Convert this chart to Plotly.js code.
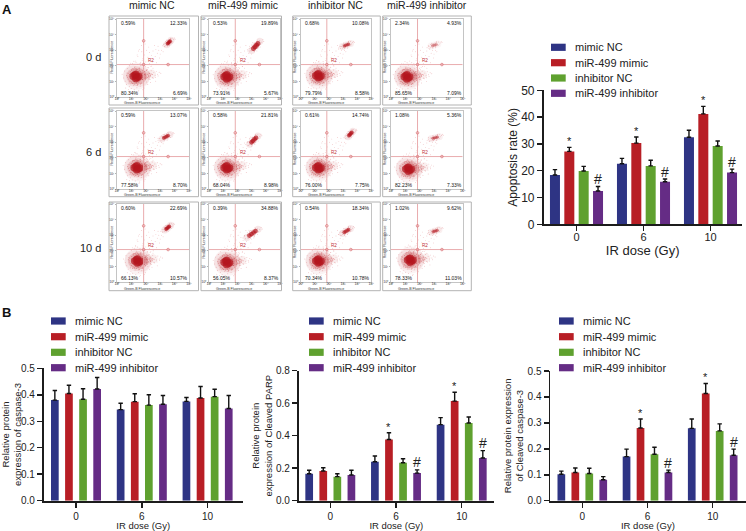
<!DOCTYPE html>
<html><head><meta charset="utf-8">
<script src="https://cdn.plot.ly/plotly-3.0.1.min.js"></script>
<style>html,body{margin:0;padding:0;background:#fff}#c{width:746px;height:531px}</style>
</head><body><div id="c"></div>
<script>
// ---------- bar chart data ----------
const doses = ['0','6','10'];
const groups = ['mimic NC','miR-499 mimic','inhibitor NC','miR-499 inhibitor'];
const groupColors = ['#2e3484','#b81e25','#5fa12f','#652c85'];

const apoptosisMean = [[18.4,22.6,32.5],[27.2,30.3,41.2],[19.9,21.8,29.2],[12.4,15.9,19.3]];
const apoptosisErr  = [[2.0,2.0,2.6],[1.5,2.3,2.8],[1.7,2.1,1.9],[1.7,1.0,1.3]];
const caspaseMean = [[.380,.344,.375],[.405,.374,.388],[.383,.361,.393],[.422,.364,.348]];
const caspaseErr  = [[.036,.024,.015],[.031,.030,.043],[.040,.039,.028],[.043,.033,.049]];
const parpMean = [[.166,.240,.468],[.183,.377,.613],[.148,.234,.478],[.158,.170,.263]];
const parpErr  = [[.021,.035,.043],[.020,.041,.054],[.018,.024,.037],[.029,.020,.045]];
const cleavedMean = [[.102,.170,.279],[.109,.280,.413],[.105,.179,.269],[.081,.109,.175]];
const cleavedErr  = [[.012,.029,.036],[.017,.035,.039],[.020,.027,.027],[.012,.009,.024]];

// ---------- flow cytometry data (decades on both axes) ----------
const columnTitles = ['mimic NC','miR-499 mimic','inhibitor NC','miR-499 inhibitor'];
const rowTitles = ['0 d','6 d','10 d'];
const decadeLabels = ['10⁰','10¹','10²','10³','10⁴','10⁵'];
const pctUL = [['0.59%','0.53%','0.68%','2.34%'],['0.59%','0.58%','0.61%','1.08%'],['0.60%','0.39%','0.54%','1.02%']];
const pctUR = [['12.33%','19.89%','10.08%','4.93%'],['13.07%','21.81%','14.74%','5.36%'],['22.69%','34.88%','18.34%','9.62%']];
const pctLL = [['80.34%','73.91%','79.79%','85.65%'],['77.58%','68.04%','76.00%','82.23%'],['66.13%','56.05%','70.34%','78.33%']];
const pctLR = [['6.69%','5.67%','8.58%','7.09%'],['8.70%','8.98%','7.75%','7.33%'],['10.57%','8.37%','10.78%','11.03%']];
const liveX = [[1.30,1.24,1.24,1.10],[1.37,1.24,1.24,1.21],[1.41,1.24,1.24,1.33]];
const liveY = [[1.33,1.30,1.37,1.30],[1.37,1.37,1.37,1.28],[1.35,1.26,1.35,1.41]];
const apoX  = [[3.60,3.29,3.24,3.03],[3.40,3.15,3.52,3.08],[3.52,3.06,3.24,3.08]];
const apoY  = [[3.50,3.27,3.33,3.33],[3.35,3.14,3.53,3.29],[3.48,3.12,3.27,3.27]];
const apoSpreadX = [[.14,.26,.26,.22],[.25,.26,.16,.26],[.18,.36,.26,.24]];
const apoSpreadY = [[.13,.27,.09,.06],[.13,.24,.16,.06],[.14,.24,.14,.07]];
const apoStrength = [[1,1,.8,.4],[.9,1,1,.65],[1,1,.9,.7]];
const hazeDX = [-.9,-.7,-.75,-.6,-.55,-.5,-.42,-.4,-.3,-.28,-.2,-.15,-.1,-.05,.02,.08,.12,.2,.25,.3,.36,.42,.5,.55,.62,.7,.74,.8,.88,.95,1.02,1.1,1.2,1.28,1.36,1.45,1.55,1.66,-.66,-.48,-.33,-.12,.15,.33,.48,.66,.85,1.05,-.8,-.58,-.36,-.18,.05,.28,.44,.6,.78,.97,1.15,1.32,1.48,.4,.7,1.0,1.3,-.25,.1,.52];
const hazeDY = [.12,-.3,.32,-.5,.48,.02,-.62,.64,-.75,.42,.78,-.55,-.82,.6,.85,-.7,.72,-.88,.5,-.6,.66,-.45,.48,-.72,.3,-.35,.12,-.5,.2,-.2,.34,-.08,.22,.06,.3,.12,.24,.18,-.72,-.8,.8,.92,-.95,.85,-.82,.58,.52,.62,-.1,.2,-.3,-.42,.35,.28,-.2,.1,.4,-.38,-.12,-.3,.02,.16,-.12,.14,-.06,.15,-.2,.24];
const bridgeX = [1.3,1.45,1.6,1.72,1.8,1.55,1.9,2.0,2.05,1.7,2.15,2.25,2.3,1.95,2.4,2.5,2.55,2.2,2.65,2.7,2.8,2.45,2.9,2.95,2.6,3.0,2.75,1.62,1.85,2.1,2.35,1.4,3.1,2.85,3.2,2.05,1.75,2.25,2.5,1.5];
const bridgeY = [2.3,2.6,2.15,2.9,2.45,3.05,2.7,2.25,3.0,3.3,2.55,2.85,2.35,3.4,2.65,2.95,2.4,3.2,2.6,3.05,2.8,2.25,3.0,2.5,3.3,2.75,2.2,2.0,1.85,1.9,1.95,2.7,3.0,3.25,2.9,1.75,2.35,2.15,1.85,2.95];
const apoDX = [-.55,-.45,-.4,-.34,-.28,-.22,-.18,-.1,-.05,.04,.1,.16,.22,.28,.34,.42,.5,.56,-.3,-.12,.14,.3,.08,-.2];
const apoDY = [-.3,-.16,-.36,-.12,-.3,-.02,-.26,.18,-.2,.24,-.16,.3,.02,.34,.1,.24,.38,.28,.06,-.32,.36,-.06,-.3,.2];
const gateX = 1.85, gateY = 2.08, handleHi = 3.6, handleRight = 3.55;

// ---------- layout helpers ----------
const W = 746, H = 531;
const px = x => x / W, py = y => 1 - y / H;
const FONT = '"Liberation Sans", Arial, sans-serif';
const INK = '#222222';
const traces = [], shapes = [], annotations = [];
const layout = {
  width: W, height: H, margin: {l:0,r:0,t:0,b:0}, paper_bgcolor:'#fff', plot_bgcolor:'rgba(0,0,0,0)',
  showlegend:false, barmode:'group', bargap:.143, bargroupgap:0, font:{family:FONT,color:INK},
  shapes, annotations, hovermode:false
};
const txt = (text,x,y,size,opt={}) => annotations.push(Object.assign({
  text, x:px(x), y:py(y), xref:'paper', yref:'paper', showarrow:false, xanchor:'center', yanchor:'middle',
  font:{size,family:FONT,color:INK}, borderpad:0
},opt));

// ---------- flow panels ----------
const colGeo = [
 {bl:109,br:198.5,l:117,r:189},{bl:201,br:281.5,l:209,r:280},
 {bl:292.7,br:380.3,l:300.7,r:371.3},{bl:382.7,br:471.3,l:391,r:462.7}];
const rowGeo = [{bt:16,bb:105,t:19,b:97},{bt:108,bb:196.7,t:111,b:189},{bt:202,bb:290.7,t:204,b:282}];
let axisId = 0;
const red = '#b4161e';
rowGeo.forEach((R,ri)=>colGeo.forEach((C,ci)=>{
  axisId++;
  const xn='x'+(axisId===1?'':axisId), yn='y'+(axisId===1?'':axisId);
  const xk='xaxis'+(axisId===1?'':axisId), yk='yaxis'+(axisId===1?'':axisId);
  const decades=[0,1,2,3,4,5];
  const common={range:[0,5],tickmode:'array',tickvals:decades,ticktext:decadeLabels,tickfont:{size:3.6,color:'#333'},
    showgrid:false,zeroline:false,showline:true,linecolor:'#c4c4c4',linewidth:1,mirror:true,ticks:'outside',ticklen:1,tickwidth:.5,tickcolor:'#666',fixedrange:true};
  layout[xk]=Object.assign({},common,{domain:[px(C.l),px(C.r)],anchor:yn,ticklabelstandoff:-3});
  layout[yk]=Object.assign({},common,{domain:[py(R.b),py(R.t)],anchor:xn});
  shapes.push({type:'rect',xref:'paper',yref:'paper',x0:px(C.bl),x1:px(C.br),y0:py(R.bt),y1:py(R.bb),line:{color:'#b3b3b3',width:1}});

  const lx=liveX[ri][ci], ly=liveY[ri][ci], ax=apoX[ri][ci], ay=apoY[ri][ci];
  const sx=apoSpreadX[ri][ci], sy=apoSpreadY[ri][ci], st=apoStrength[ri][ci];
  const add=(x,y,size,opacity,color=red)=>traces.push({type:'scatter',mode:'markers',x,y,xaxis:xn,yaxis:yn,cliponaxis:true,hoverinfo:'skip',
    marker:{size,color,opacity,line:{width:0}}});
  // sparse events
  add(bridgeX,bridgeY,.9,.45,'#d8585e');
  add(hazeDX.map(d=>lx+d*1.05),hazeDY.map(d=>ly+d*1.05),.9,.5,'#d8585e');
  add(hazeDX.map(d=>lx+d*.7),hazeDY.map(d=>ly+d*.6),1,.55,'#d8585e');
  add(apoDX.map(d=>ax+d*(sx+.25)/.5),apoDY.map(d=>ay+d*(sy+.2)/.45),.9,.5,'#d8585e');
  // live population: soft halo, tail, dense core
  add([lx+.05],[ly],27,.05);
  add([lx-.15,lx+.25],[ly+.02,ly-.02],21,.07);
  add([lx+.75,lx+1.1],[ly+.08,ly+.14],9,.07);
  add([lx-.1,lx+.2],[ly,ly],16,.16);
  add([lx+.45],[ly+.02],8,.22);
  add([lx-.18,lx+.02,lx+.2,lx,lx-.06,lx+.1],[ly,ly+.12,ly-.02,ly-.14,ly+.08,ly-.08],7.5,.7);
  // early-apoptotic population
  add([ax-sx*1.1,ax,ax+sx*1.1],[ay-sy*1.1,ay,ay+sy*1.1],7,.1*st);
  add([ax-sx*.6,ax-sx*.2,ax+sx*.2,ax+sx*.6],[ay-sy*.6,ay-sy*.2,ay+sy*.2,ay+sy*.6],Math.max(3,2.6+sy*9),.7*st);
  // gate lines and handles
  traces.push({type:'scatter',mode:'lines',x:[gateX,gateX],y:[0,5],xaxis:xn,yaxis:yn,line:{color:'#e6a3a5',width:.9},hoverinfo:'skip'});
  traces.push({type:'scatter',mode:'lines',x:[0,5],y:[gateY,gateY],xaxis:xn,yaxis:yn,line:{color:'#e6a3a5',width:.9},hoverinfo:'skip'});
  traces.push({type:'scatter',mode:'markers',x:[gateX,gateX,handleRight],y:[handleHi,gateY,gateY],xaxis:xn,yaxis:yn,hoverinfo:'skip',
    marker:{size:2.6,color:'rgba(0,0,0,0)',line:{color:'#d96a6e',width:.7}}});
  // quadrant values and axis captions
  const q=(text,x,y,xa)=>annotations.push({text,x,y,xref:xn,yref:yn,showarrow:false,xanchor:xa,yanchor:'middle',font:{size:5,color:'#111',family:FONT},borderpad:0});
  q(pctUL[ri][ci],.2,4.75,'left'); q(pctUR[ri][ci],5,4.75,'right');
  q(pctLL[ri][ci],.2,.28,'left'); q(pctLR[ri][ci],5,.28,'right');
  annotations.push({text:'R2',x:2.1,y:2.33,xref:xn,yref:yn,showarrow:false,xanchor:'left',yanchor:'middle',font:{size:4.5,color:'#c0333a',family:FONT},borderpad:0});
  txt('Green-B Fluorescence',C.l+25,R.bb-1.6,3.6,{font:{size:3.6,color:'#333',family:FONT}});
  txt('Red-B Fluorescence',C.bl+2.6,R.t+38,3.6,{textangle:-90,font:{size:3.6,color:'#333',family:FONT}});
}));

// ---------- bar charts ----------
const charts = [
 {mean:apoptosisMean,err:apoptosisErr,l:543.7,r:741.7,t:90.3,b:224.3,ymax:50,dtick:10,fmt:'',cat0:576.5,step:67,bw:10,
  ytitle:'Apoptosis rate (%)',ts:12,yts:12,xts:11,xt:'IR dose (Gy)',xtsz:13,lgX:551,lgY:[47.3,62.7,78,93.3],standoff:3,ystand:1,tls:-3,
  marks:[[1,0,'*'],[3,0,'#'],[1,1,'*'],[3,1,'#'],[1,2,'*'],[3,2,'#']]},
 {mean:caspaseMean,err:caspaseErr,l:43.7,r:242.7,t:368.3,b:500.7,ymax:.5,dtick:.1,fmt:'.1f',cat0:76,step:65.8,bw:7.7,
  ytitle:'Relative protein<br>expression of caspase-3',ts:9.5,yts:10,xts:10,xt:'IR dose (Gy)',xtsz:9.5,lgX:51,lgY:[321,336.7,352.3,367.7],standoff:13,ystand:8,tls:0,marks:[]},
 {mean:parpMean,err:parpErr,l:298.7,r:494,t:370.7,b:500.7,ymax:.8,dtick:.2,fmt:'.1f',cat0:330.3,step:65.7,bw:7.7,
  ytitle:'Relative protein<br>expression of Cleaved PARP',ts:9.5,yts:10,xts:10,xt:'IR dose (Gy)',xtsz:9.5,lgX:309,lgY:[321,336.7,352.3,367.7],standoff:13,ystand:2,tls:0,
  marks:[[1,1,'*'],[3,1,'#'],[1,2,'*'],[3,2,'#']]},
 {mean:cleavedMean,err:cleavedErr,l:550.3,r:745.5,t:371,b:500.7,ymax:.5,dtick:.1,fmt:'.1f',cat0:582.3,step:65.2,bw:7.7,
  ytitle:'Relative protein expression<br>of Cleaved caspase-3',ts:9.5,yts:10,xts:10,xt:'IR dose (Gy)',xtsz:9.5,lgX:559,lgY:[321,336.7,352.3,367.7],standoff:13,ystand:2,tls:0,
  marks:[[1,1,'*'],[3,1,'#'],[1,2,'*'],[3,2,'#']]}
];
charts.forEach(c=>{
  axisId++;
  const xn='x'+axisId, yn='y'+axisId;
  layout['xaxis'+axisId]={domain:[px(c.l),px(c.r)],anchor:yn,type:'category',categoryorder:'array',categoryarray:doses,
    range:[(c.l-c.cat0)/c.step,(c.r-c.cat0)/c.step],showline:true,linecolor:'#1c1c1c',linewidth:1.8,ticks:'outside',ticklen:5,tickwidth:1.5,tickcolor:'#1c1c1c',
    tickfont:{size:c.xts,color:INK},showgrid:false,zeroline:false,fixedrange:true,ticklabelstandoff:c.tls,
    title:{text:c.xt,font:{size:c.xtsz,color:INK},standoff:c.standoff}};
  layout['yaxis'+axisId]={domain:[py(c.b),py(c.t)],anchor:xn,range:[0,c.ymax],dtick:c.dtick,tickformat:c.fmt,
    showline:true,linecolor:'#1c1c1c',linewidth:1.8,ticks:'outside',ticklen:5,tickwidth:1.5,tickcolor:'#1c1c1c',
    tickfont:{size:c.yts,color:INK},showgrid:false,zeroline:false,fixedrange:true,
    title:{text:c.ytitle,font:{size:c.ts,color:INK},standoff:c.ystand}};
  groups.forEach((name,g)=>{
    traces.push({type:'bar',name,x:doses,y:c.mean[g],xaxis:xn,yaxis:yn,width:c.bw/c.step,marker:{color:groupColors[g],line:{width:0}},hoverinfo:'skip',
      error_y:{type:'data',symmetric:false,array:c.err[g],arrayminus:c.err[g].map(()=>0),color:'#111',thickness:1.4,width:2.2}});
    shapes.push({type:'rect',xref:'paper',yref:'paper',x0:px(c.lgX),x1:px(c.lgX+14.7),y0:py(c.lgY[g]-3.6),y1:py(c.lgY[g]+3.6),fillcolor:groupColors[g],line:{width:0}});
    txt(name,c.lgX+22.7,c.lgY[g],11,{xanchor:'left'});
  });
  const barStep=(1-.143)/4;
  c.marks.forEach(([g,k,sym])=>{
    annotations.push({text:sym,x:k+(g-1.5)*barStep,y:c.mean[g][k]+c.err[g][k],xref:xn,yref:yn,showarrow:false,xanchor:'center',yanchor:'bottom',
      yshift:sym==='#'?-1.5:-1,font:{size:sym==='#'?14:11,color:INK,family:FONT},borderpad:0});
  });
});

// ---------- headings ----------
txt('<b>A</b>',7,10,13,{font:{size:13,color:'#111',family:FONT}});
txt('<b>B</b>',6,312,13,{font:{size:13,color:'#111',family:FONT}});
[151.7,243,335,426.7].forEach((x,i)=>txt(columnTitles[i],x,5.5,10.5));
[56.7,151.7,248].forEach((y,i)=>txt(rowTitles[i],i===2?90:93.7,y,11));

Plotly.newPlot('c',traces,layout,{staticPlot:true,displayModeBar:false});
</script></body></html>
